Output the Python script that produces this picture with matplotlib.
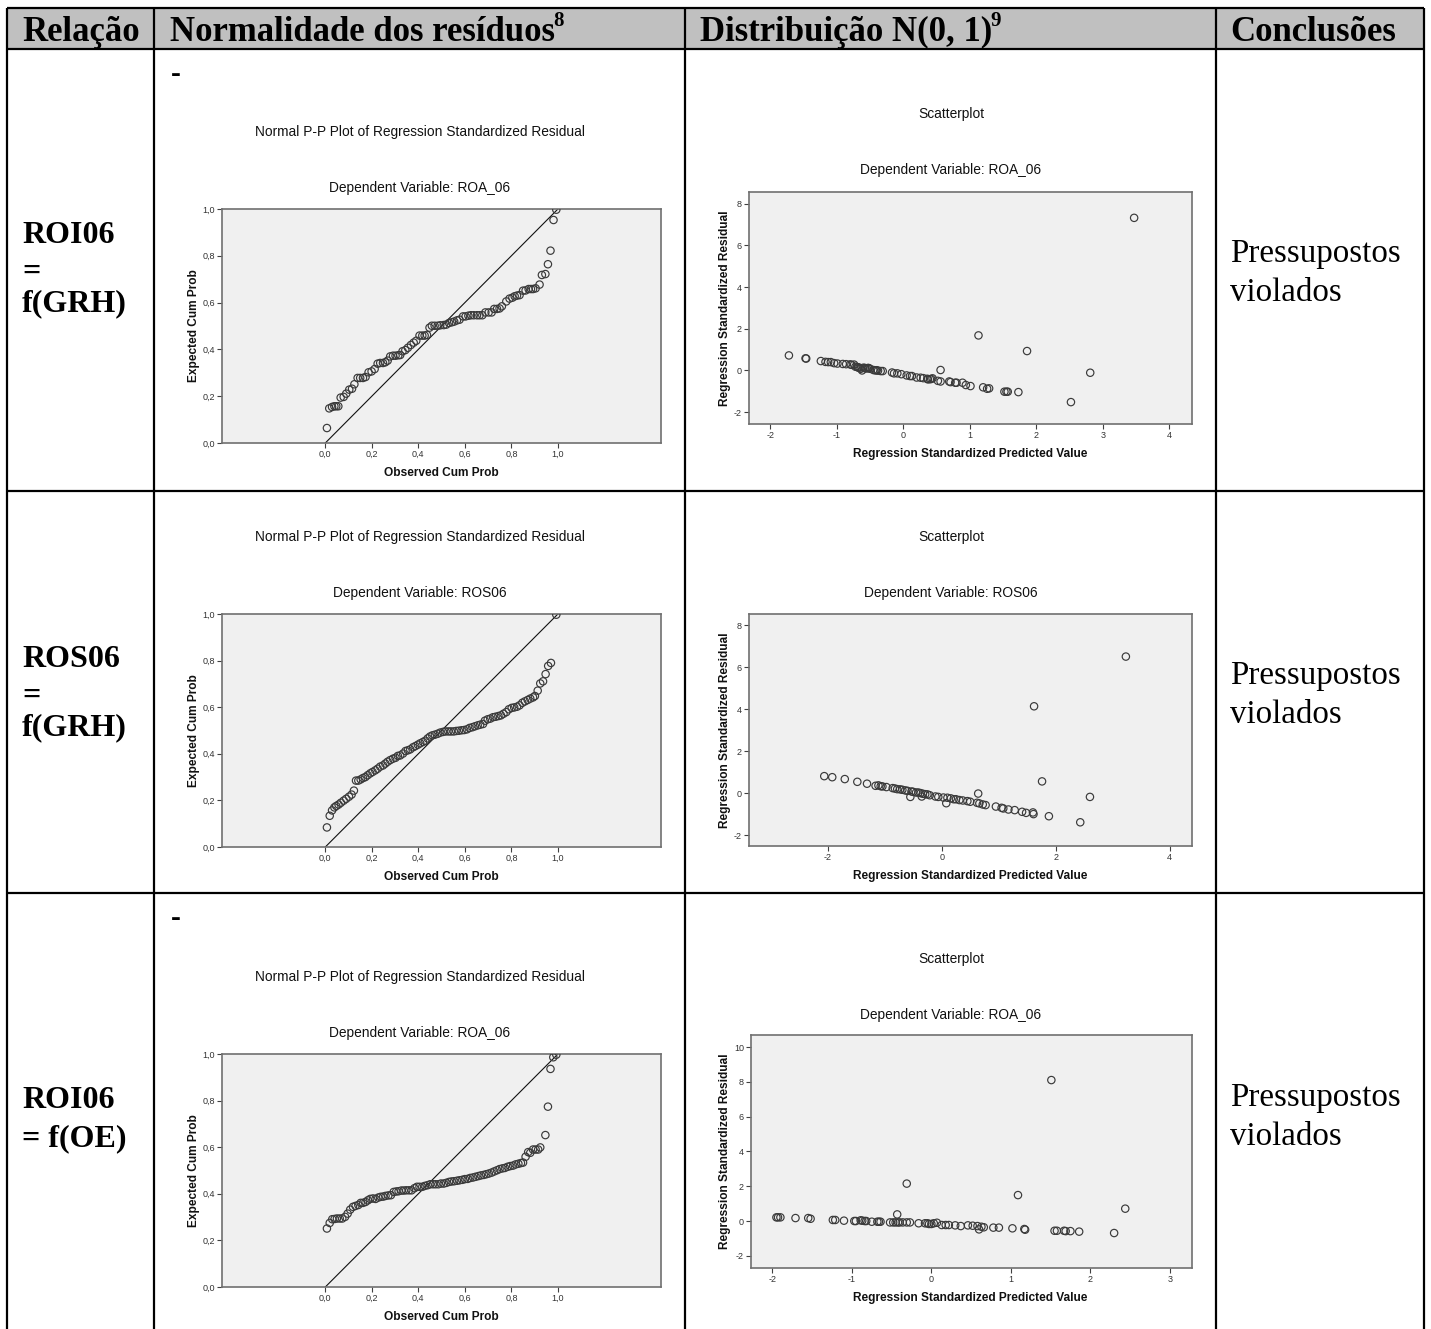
import matplotlib
matplotlib.use("Agg")
import matplotlib.pyplot as plt
from matplotlib.patches import Rectangle
from matplotlib.ticker import FuncFormatter

plt.rcParams['axes.unicode_minus'] = False

# ---- table text ----
headers = ['Relação', 'Normalidade dos resíduos', 'Distribuição N(0, 1)', 'Conclusões']
header_notes = ['', '8', '9', '']
relations = [['ROI06', '=', 'f(GRH)'], ['ROS06', '=', 'f(GRH)'], ['ROI06', '= f(OE)']]
dep_vars = ['ROA_06', 'ROS06', 'ROA_06']
conclusions = ['Pressupostos', 'violados']

# ---- P-P plots: observed vs expected cumulative probability ----
pp1_obs = [0.007, 0.017, 0.029, 0.039, 0.047, 0.056, 0.066, 0.079, 0.090, 0.103,
           0.115, 0.125, 0.139, 0.150, 0.162, 0.173, 0.186, 0.199, 0.212, 0.225,
           0.236, 0.248, 0.258, 0.268, 0.279, 0.291, 0.302, 0.314, 0.322, 0.332,
           0.344, 0.355, 0.368, 0.380, 0.391, 0.405, 0.417, 0.427, 0.437, 0.448,
           0.458, 0.470, 0.483, 0.494, 0.509, 0.520, 0.532, 0.544, 0.554, 0.566,
           0.577, 0.592, 0.603, 0.615, 0.626, 0.638, 0.652, 0.663, 0.675, 0.688,
           0.702, 0.715, 0.726, 0.738, 0.749, 0.759, 0.778, 0.792, 0.804, 0.814,
           0.824, 0.835, 0.850, 0.861, 0.874, 0.884, 0.893, 0.904, 0.921, 0.931,
           0.946, 0.957, 0.968, 0.981, 0.993]
pp1_exp = [0.064, 0.148, 0.154, 0.157, 0.157, 0.157, 0.194, 0.197, 0.211, 0.228,
           0.232, 0.251, 0.278, 0.278, 0.278, 0.282, 0.302, 0.306, 0.316, 0.339,
           0.342, 0.342, 0.345, 0.352, 0.370, 0.373, 0.373, 0.375, 0.376, 0.392,
           0.397, 0.407, 0.419, 0.429, 0.437, 0.459, 0.459, 0.459, 0.462, 0.493,
           0.501, 0.501, 0.501, 0.503, 0.504, 0.506, 0.513, 0.516, 0.519, 0.524,
           0.527, 0.541, 0.541, 0.544, 0.546, 0.546, 0.546, 0.546, 0.546, 0.558,
           0.558, 0.558, 0.573, 0.573, 0.575, 0.584, 0.605, 0.617, 0.621, 0.627,
           0.630, 0.632, 0.651, 0.652, 0.658, 0.658, 0.658, 0.661, 0.677, 0.718,
           0.722, 0.764, 0.822, 0.953, 0.997]

pp2_obs = [0.007, 0.019, 0.029, 0.039, 0.047, 0.057, 0.067, 0.079, 0.090, 0.102,
           0.113, 0.123, 0.132, 0.142, 0.152, 0.162, 0.172, 0.182, 0.193, 0.203,
           0.215, 0.225, 0.236, 0.248, 0.258, 0.268, 0.279, 0.291, 0.302, 0.312,
           0.322, 0.334, 0.345, 0.355, 0.365, 0.377, 0.387, 0.398, 0.408, 0.420,
           0.430, 0.440, 0.450, 0.460, 0.471, 0.483, 0.494, 0.506, 0.517, 0.529,
           0.540, 0.552, 0.563, 0.574, 0.586, 0.597, 0.609, 0.620, 0.632, 0.643,
           0.655, 0.666, 0.678, 0.686, 0.698, 0.709, 0.721, 0.732, 0.744, 0.755,
           0.766, 0.778, 0.789, 0.801, 0.812, 0.824, 0.835, 0.847, 0.858, 0.870,
           0.881, 0.893, 0.901, 0.913, 0.924, 0.936, 0.947, 0.958, 0.970, 0.993]
pp2_exp = [0.084, 0.134, 0.157, 0.170, 0.176, 0.182, 0.190, 0.199, 0.207, 0.216,
           0.225, 0.242, 0.285, 0.285, 0.290, 0.296, 0.300, 0.308, 0.316, 0.322,
           0.329, 0.336, 0.345, 0.350, 0.358, 0.366, 0.373, 0.379, 0.383, 0.391,
           0.393, 0.401, 0.412, 0.415, 0.419, 0.428, 0.433, 0.439, 0.445, 0.451,
           0.456, 0.466, 0.474, 0.479, 0.482, 0.486, 0.491, 0.494, 0.496, 0.496,
           0.496, 0.496, 0.498, 0.499, 0.501, 0.502, 0.505, 0.511, 0.514, 0.518,
           0.522, 0.525, 0.528, 0.542, 0.548, 0.551, 0.557, 0.559, 0.562, 0.565,
           0.572, 0.579, 0.591, 0.597, 0.599, 0.602, 0.608, 0.619, 0.625, 0.631,
           0.637, 0.642, 0.648, 0.671, 0.702, 0.711, 0.742, 0.777, 0.790, 0.997]

pp3_obs = [0.007, 0.019, 0.030, 0.040, 0.050, 0.062, 0.073, 0.085, 0.096, 0.107,
           0.119, 0.130, 0.142, 0.152, 0.162, 0.173, 0.183, 0.193, 0.205, 0.216,
           0.228, 0.238, 0.249, 0.259, 0.271, 0.282, 0.294, 0.305, 0.315, 0.327,
           0.337, 0.348, 0.360, 0.371, 0.383, 0.394, 0.405, 0.417, 0.428, 0.440,
           0.451, 0.463, 0.474, 0.486, 0.497, 0.509, 0.520, 0.532, 0.543, 0.554,
           0.566, 0.577, 0.589, 0.600, 0.612, 0.623, 0.635, 0.646, 0.658, 0.669,
           0.681, 0.692, 0.703, 0.715, 0.726, 0.738, 0.749, 0.761, 0.772, 0.784,
           0.795, 0.807, 0.818, 0.830, 0.841, 0.850, 0.861, 0.872, 0.881, 0.893,
           0.904, 0.915, 0.924, 0.946, 0.957, 0.968, 0.980, 0.993]
pp3_exp = [0.251, 0.275, 0.291, 0.292, 0.294, 0.294, 0.294, 0.301, 0.315, 0.332,
           0.344, 0.348, 0.352, 0.361, 0.361, 0.365, 0.372, 0.378, 0.380, 0.378,
           0.384, 0.387, 0.388, 0.391, 0.393, 0.394, 0.408, 0.410, 0.411, 0.414,
           0.414, 0.415, 0.415, 0.415, 0.424, 0.430, 0.430, 0.430, 0.434, 0.437,
           0.441, 0.441, 0.441, 0.441, 0.444, 0.444, 0.447, 0.451, 0.453, 0.454,
           0.456, 0.458, 0.460, 0.463, 0.464, 0.468, 0.470, 0.473, 0.476, 0.479,
           0.481, 0.484, 0.487, 0.491, 0.496, 0.501, 0.506, 0.509, 0.511, 0.516,
           0.519, 0.521, 0.526, 0.529, 0.532, 0.534, 0.559, 0.579, 0.576, 0.590,
           0.590, 0.590, 0.599, 0.652, 0.774, 0.936, 0.986, 0.997]

# ---- scatterplots: standardized predicted value vs standardized residual ----
sc1_pred = [-1.72, -1.47, -1.46, -1.24, -1.17, -1.13, -1.09, -1.04, -0.99, -0.91,
            -0.86, -0.80, -0.78, -0.74, -0.72, -0.69, -0.66, -0.64, -0.62, -0.60,
            -0.57, -0.55, -0.53, -0.50, -0.42, -0.40, -0.34, -0.31, -0.17, -0.14,
            -0.09, -0.03, 0.05, 0.10, 0.13, 0.20, 0.26, 0.30, 0.37, 0.40,
            0.44, 0.52, 0.56, 0.56, 0.69, 0.71, 0.78, 0.80, 0.89, 0.94,
            1.01, 1.13, 1.20, 1.26, 1.29, 1.52, 1.55, 1.57, 1.73, 1.86,
            2.52, 2.81, 3.47, -0.68, -0.58, -0.52, -0.45, -0.38, 0.36, 0.42]
sc1_res = [0.72, 0.58, 0.57, 0.45, 0.41, 0.40, 0.40, 0.35, 0.33, 0.31,
           0.30, 0.29, 0.27, 0.28, 0.18, 0.16, 0.13, 0.08, 0.00, 0.13,
           0.10, 0.10, 0.12, 0.08, 0.00, 0.01, -0.03, -0.03, -0.10, -0.14,
           -0.14, -0.18, -0.24, -0.27, -0.27, -0.34, -0.35, -0.37, -0.43, -0.42,
           -0.38, -0.50, -0.53, 0.02, -0.53, -0.56, -0.59, -0.59, -0.59, -0.70,
           -0.75, 1.68, -0.81, -0.88, -0.86, -1.02, -1.02, -1.02, -1.04, 0.93,
           -1.52, -0.11, 7.32, 0.14, 0.12, 0.11, 0.02, -0.01, -0.40, -0.41]

sc2_pred = [-2.06, -1.92, -1.70, -1.48, -1.31, -1.16, -1.11, -1.07, -1.04, -0.97,
            -0.86, -0.82, -0.78, -0.73, -0.69, -0.64, -0.60, -0.55, -0.53, -0.50,
            -0.45, -0.41, -0.37, -0.35, -0.33, -0.29, -0.25, -0.21, -0.11, -0.06,
            0.03, 0.08, 0.10, 0.16, 0.21, 0.25, 0.31, 0.37, 0.45, 0.50,
            0.62, 0.64, 0.66, 0.72, 0.77, 0.95, 1.05, 1.08, 1.17, 1.28,
            1.41, 1.48, 1.60, 1.61, 1.62, 1.76, 1.88, 2.43, 2.60, 3.23]
sc2_res = [0.81, 0.76, 0.67, 0.54, 0.45, 0.35, 0.37, 0.33, 0.32, 0.29,
           0.24, 0.22, 0.19, 0.18, 0.16, 0.13, 0.11, -0.18, 0.08, 0.06,
           0.03, 0.03, 0.00, -0.16, -0.03, -0.05, -0.06, -0.10, -0.16, -0.18,
           -0.21, -0.48, -0.22, -0.25, -0.29, -0.29, -0.33, -0.35, -0.38, -0.41,
           -0.46, -0.02, -0.49, -0.54, -0.57, -0.64, -0.70, -0.73, -0.78, -0.81,
           -0.89, -0.94, -0.92, -1.00, 4.14, 0.56, -1.10, -1.39, -0.18, 6.51]

sc3_pred = [-1.95, -1.93, -1.90, -1.71, -1.55, -1.52, -1.24, -1.21, -1.10, -0.97,
            -0.95, -0.89, -0.87, -0.84, -0.82, -0.75, -0.68, -0.66, -0.64, -0.52,
            -0.48, -0.45, -0.43, -0.42, -0.40, -0.36, -0.31, -0.31, -0.27, -0.16,
            -0.08, -0.05, -0.03, 0.00, 0.03, 0.07, 0.13, 0.18, 0.22, 0.30,
            0.37, 0.46, 0.52, 0.58, 0.60, 0.63, 0.66, 0.78, 0.85, 1.02,
            1.09, 1.17, 1.18, 1.51, 1.55, 1.58, 1.67, 1.69, 1.75, 1.86,
            2.30, 2.44]
sc3_res = [0.21, 0.21, 0.21, 0.17, 0.17, 0.13, 0.06, 0.06, 0.02, 0.00,
           0.00, 0.04, 0.02, 0.00, 0.00, -0.04, -0.04, -0.04, -0.04, -0.08,
           -0.08, -0.08, 0.38, -0.08, -0.08, -0.08, 2.15, -0.08, -0.08, -0.13,
           -0.13, -0.13, -0.17, -0.17, -0.13, -0.10, -0.23, -0.23, -0.23, -0.25,
           -0.29, -0.25, -0.27, -0.29, -0.48, -0.33, -0.36, -0.38, -0.38, -0.42,
           1.49, -0.46, -0.50, 8.10, -0.56, -0.56, -0.56, -0.58, -0.58, -0.61,
           -0.69, 0.71]

W, H = 1431, 1329
fig = plt.figure(figsize=(W / 100, H / 100), dpi=100)

# background axes in pixel coords (y down) for the table
bg = fig.add_axes([0, 0, 1, 1], zorder=0)
bg.set_xlim(0, W)
bg.set_ylim(H, 0)
bg.axis('off')

col_x = [7, 154, 685, 1216, 1424]
row_y = [8, 49, 491, 893]
lw = 1.6
bg.add_patch(Rectangle((col_x[0], row_y[0]), col_x[-1] - col_x[0], row_y[1] - row_y[0],
                       facecolor='#c0c0c0', edgecolor='none'))
for x in col_x:
    bg.plot([x, x], [row_y[0], H], color='black', lw=lw, solid_capstyle='butt')
for y in row_y:
    bg.plot([col_x[0], col_x[-1]], [y, y], color='black', lw=lw, solid_capstyle='butt')

serif = 'Liberation Serif'
sans = 'Liberation Sans'
hdr_x = [22, 170, 700, 1230]
hdr_texts = []
for hx, txt in zip(hdr_x, headers):
    hdr_texts.append(bg.text(hx, 41, txt, family=serif, weight='bold', fontsize=25,
                             va='baseline', ha='left'))

# relation column
rel_baselines = [[243, 280, 311], [667, 704, 735], [1108, 1146]]
for lines, ys in zip(relations, rel_baselines):
    for txt, yy in zip(lines, ys):
        bg.text(22, yy, txt, family=serif, weight='bold', fontsize=23, va='baseline')

# conclusions column
concl_baselines = [[262, 301], [684, 723], [1106, 1145]]
for ys in concl_baselines:
    for txt, yy in zip(conclusions, ys):
        bg.text(1230, yy, txt, family=serif, fontsize=23.8, va='baseline')

# stray dashes in rows 1 and 3
for yy in [75, 918]:
    bg.text(176, yy, '-', family=serif, weight='bold', fontsize=21, ha='center', va='center')


def px_axes(x0, y0, x1, y1):
    return fig.add_axes([x0 / W, 1 - y1 / H, (x1 - x0) / W, (y1 - y0) / H], zorder=2)


def spss_style(ax):
    ax.set_facecolor('#f0f0f0')
    for s in ax.spines.values():
        s.set_color('#707070')
        s.set_linewidth(1.2)
    ax.tick_params(direction='out', length=3.5, width=0.8, color='#404040',
                   labelsize=6.5, labelcolor='#333333', pad=1.5)
    ax.tick_params(top=False, right=False)
    for lab in ax.get_xticklabels() + ax.get_yticklabels():
        lab.set_family(sans)


comma = FuncFormatter(lambda v, p: f'{v:.1f}'.replace('.', ','))
marker = dict(s=28, facecolors='none', edgecolors='#3a3a3a', linewidths=0.85, zorder=3)
title_kw = dict(family=sans, fontsize=9.9, color='#111111', ha='center', va='center')
label_kw = dict(family=sans, fontsize=8.6, weight='bold', color='#111111',
                ha='center', va='center')

pp_data = [(pp1_obs, pp1_exp), (pp2_obs, pp2_exp), (pp3_obs, pp3_exp)]
pp_boxes = [(222, 209, 661, 443), (222, 614, 661, 847), (222, 1054, 661, 1287)]
pp_title_y = [(132, 188), (537, 593), (977, 1033)]
for (obs, exp), box, (ty1, ty2), dv in zip(pp_data, pp_boxes, pp_title_y, dep_vars):
    ax = px_axes(*box)
    ax.plot([0, 1], [0, 1], color='#111111', lw=0.8, zorder=2)
    ax.scatter(obs, exp, **marker)
    ax.set_xlim(-0.444, 1.443)
    ax.set_ylim(0, 1)
    ax.set_xticks([0, 0.2, 0.4, 0.6, 0.8, 1.0])
    ax.set_yticks([0, 0.2, 0.4, 0.6, 0.8, 1.0])
    ax.xaxis.set_major_formatter(comma)
    ax.yaxis.set_major_formatter(comma)
    spss_style(ax)
    bg.text(420, ty1, 'Normal P-P Plot of Regression Standardized Residual', **title_kw)
    bg.text(420, ty2, f'Dependent Variable: {dv}', **title_kw)
    bg.text(441, box[3] + 30, 'Observed Cum Prob', **label_kw)
    bg.text(194, (box[1] + box[3]) / 2, 'Expected Cum Prob', rotation=90, **label_kw)

sc_data = [(sc1_pred, sc1_res), (sc2_pred, sc2_res), (sc3_pred, sc3_res)]
sc_boxes = [(749, 192, 1192, 424), (749, 614, 1192, 846), (751, 1035, 1192, 1268)]
sc_xlim = [(-2.32, 4.34), (-3.38, 4.39), (-2.27, 3.28)]
sc_ylim = [(-2.57, 8.56), (-2.52, 8.54), (-2.70, 10.69)]
sc_xticks = [[-2, -1, 0, 1, 2, 3, 4], [-2, 0, 2, 4], [-2, -1, 0, 1, 2, 3]]
sc_yticks = [[-2, 0, 2, 4, 6, 8], [-2, 0, 2, 4, 6, 8], [-2, 0, 2, 4, 6, 8, 10]]
sc_title_y = [(114, 170), (537, 593), (959, 1015)]
for (xp, yr), box, xl, yl, xt, yt, (ty1, ty2), dv in zip(
        sc_data, sc_boxes, sc_xlim, sc_ylim, sc_xticks, sc_yticks, sc_title_y, dep_vars):
    ax = px_axes(*box)
    ax.scatter(xp, yr, **marker)
    ax.set_xlim(*xl)
    ax.set_ylim(*yl)
    ax.set_xticks(xt)
    ax.set_yticks(yt)
    spss_style(ax)
    bg.text(951, ty1, 'Scatterplot', **title_kw)
    bg.text(951, ty2, f'Dependent Variable: {dv}', **title_kw)
    bg.text(970, box[3] + 30, 'Regression Standardized Predicted Value', **label_kw)
    bg.text(725, (box[1] + box[3]) / 2, 'Regression Standardized Residual', rotation=90,
            **label_kw)

# superscripts right after the header texts
fig.canvas.draw()
renderer = fig.canvas.get_renderer()
inv = bg.transData.inverted()
for t, note in zip(hdr_texts, header_notes):
    if not note:
        continue
    ext = t.get_window_extent(renderer)
    x_end, _ = inv.transform((ext.x1, ext.y1))
    bg.text(x_end - 2, 26, note, family=serif, weight='bold', fontsize=15,
            va='baseline', ha='left')

fig.savefig('out.png', dpi=100)
